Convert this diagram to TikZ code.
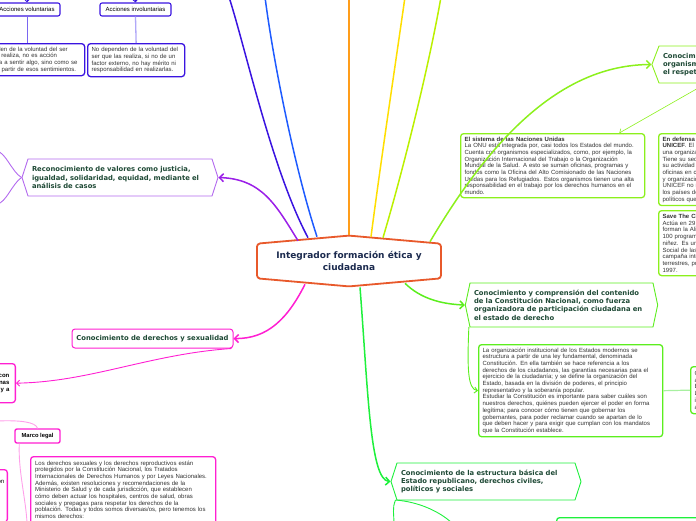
\documentclass[tikz,border=0pt]{standalone}
\usepackage{fontspec}
\setmainfont{Liberation Sans}
\newfontfamily\headfont{DejaVu Sans}
\usetikzlibrary{arrows.meta, positioning, shapes.symbols, calc}
\definecolor{headgreen}{HTML}{1F4A36}
\definecolor{mainnavy}{HTML}{1B2A4E}
\definecolor{bodygray}{HTML}{333333}
\definecolor{mainorange}{HTML}{E8592B}
\definecolor{recpurple}{HTML}{9B1FE8}
\definecolor{recborder}{HTML}{B36AEF}
\definecolor{volindigo}{HTML}{3A14E0}
\definecolor{vollight}{HTML}{7A66F0}
\definecolor{invlight}{HTML}{B0A8F8}
\definecolor{topblue}{HTML}{1E5BFF}
\definecolor{toporange}{HTML}{FF9D1A}
\definecolor{topyellow}{HTML}{FFDE00}
\definecolor{topyg}{HTML}{BBF000}
\definecolor{orglime}{HTML}{8CF01C}
\definecolor{conlime}{HTML}{5CEE1E}
\definecolor{estgreen}{HTML}{1EF03C}
\definecolor{sexmagenta}{HTML}{FF1FD2}
\definecolor{sexlight}{HTML}{FFA0EA}
\definecolor{provlight}{HTML}{A8F0A0}

\begin{document}
\begin{tikzpicture}[x=1pt, y=-1pt,
    hexnode/.style={shape=signal, signal to=west and east, draw, fill=white, line width=0.9pt,
      align=left, text=headgreen, font=\headfont\bfseries\fontsize{6.8}{8.4}\selectfont,
      inner xsep=4pt, inner ysep=3pt},
    notebox/.style={draw, fill=white, rounded corners=3pt, line width=1.3pt, align=left,
      text=bodygray, font=\fontsize{6}{6.7}\selectfont, inner xsep=4pt, inner ysep=3pt,
      anchor=north west},
    tagbox/.style={draw, fill=white, rounded corners=2pt, line width=1.1pt,
      font=\fontsize{6}{7}\selectfont, inner sep=1.5pt},
    link/.style={line width=1.5pt, -{Straight Barb[length=4pt,width=8pt]}},
    branch/.style={line width=1.5pt},
    twig/.style={line width=0.9pt}
  ]
  \useasboundingbox (0,0) rectangle (696,520);

  % central topic
  \node[draw=mainorange, line width=1.8pt, fill=white, shape=signal, signal to=north and south,
    signal pointer angle=170, rounded corners=3pt, minimum width=184pt, minimum height=48pt,
    align=center, text=mainnavy, font=\headfont\bfseries\fontsize{9}{12}\selectfont]
    (main) at (349,261) {Integrador formación ética y\\ciudadana};

  % free ends off the page
  \coordinate (topIndigo) at (229,-3);
  \coordinate (topBlue) at (265,-3);
  \coordinate (topOrange) at (349,-3);
  \coordinate (topYellow) at (405,-3);
  \coordinate (topYg) at (441,-3);
  \coordinate (volIn) at (27,-3);
  \coordinate (invIn) at (135,-3);
  \coordinate (recUp) at (-3,151);
  \coordinate (recDown) at (-3,204);
  \coordinate (legalIn) at (-3,421);
  \coordinate (legalDown) at (27,523);
  \coordinate (orgOut) at (700,87);
  \coordinate (estDown) at (394,523);
  \coordinate (estRight) at (452,523);

  % acciones
  \node[tagbox, draw=volindigo, minimum width=66pt, minimum height=13pt] (vol) at (27,9.5) {Acciones voluntarias};
  \node[tagbox, draw=volindigo, minimum width=71pt, minimum height=13pt] (invol) at (135.5,9.5) {Acciones involuntarias};
  \node[notebox, draw=volindigo, text width=101pt, minimum height=32pt] (volText) at (-25,43)
    {Dependen de la voluntad del ser\\que las realiza, no es acción\\obligada a sentir algo, sino como se\\actúa a partir de esos sentimientos.};
  \node[notebox, draw=volindigo, text width=89pt, minimum height=33pt] (involText) at (87,43)
    {No dependen de la voluntad del\\ser que las realiza, si no de un\\factor externo, no hay mérito ni\\responsabilidad en realizarlas.};

  % valores
  \node[hexnode, draw=recborder, text width=176pt, minimum height=37pt, signal pointer angle=144] (rec) at (120,177.5)
    {Reconocimiento de valores como justicia,\\igualdad, solidaridad, equidad, mediante el\\análisis de casos};

  % derechos y sexualidad
  \node[tagbox, draw=sexmagenta, rounded corners=3pt, line width=1pt, minimum width=161pt, minimum height=19pt,
    text=headgreen, font=\headfont\bfseries\fontsize{6.8}{8}\selectfont] (sex) at (152.5,338.5)
    {Conocimiento de derechos y sexualidad};
  \node[notebox, draw=sexmagenta, anchor=north east, align=right, text width=140pt, minimum height=39pt, inner xsep=6pt,
    text=black, font=\bfseries\fontsize{6}{6.9}\selectfont] (sexChild) at (16,363)
    {Son derechos humanos que se relacionan con\\la sexualidad de las personas\\y a decidir con libertad y a};
  \node[tagbox, draw=sexmagenta, line width=1.4pt, minimum width=45pt, minimum height=14pt,
    font=\bfseries\fontsize{5.8}{7}\selectfont] (marco) at (37.5,436) {Marco legal};
  \node[notebox, draw=sexmagenta, text width=176pt, inner xsep=4.5pt, inner ysep=4pt] (legalText) at (30,456)
    {Los derechos sexuales y los derechos reproductivos están\\protegidos por la Constitución Nacional, los Tratados\\Internacionales de Derechos Humanos y por Leyes Nacionales.\\Además, existen resoluciones y recomendaciones de la\\Ministerio de Salud y de cada jurisdicción, que establecen\\cómo deben actuar los hospitales, centros de salud, obras\\sociales y prepagas para respetar los derechos de la\\población. Todas y todos somos diversas/os, pero tenemos los\\mismos derechos:\par\vspace*{10pt}};
  \node[notebox, draw=sexmagenta, anchor=north east, align=right, text width=100pt, inner ysep=9pt, inner xsep=3pt,
    text=black] (infoBox) at (8,469)
    {Derecho a la información\par\vspace*{30pt}};

  % organismos internacionales
  \node[hexnode, draw=orglime, text width=200pt, minimum height=37pt, signal pointer angle=138] (org) at (763,64.5)
    {Conocimiento de la función de los\\organismos internacionales en\\el respeto de los derechos humanos};
  \node[notebox, draw=orglime, text width=176pt, minimum height=64pt] (onu) at (460,133)
    {\textbf{El sistema de las Naciones Unidas}\\La ONU está integrada por, casi todos los Estados del mundo.\\Cuenta con organismos especializados, como, por ejemplo, la\\Organización Internacional del Trabajo o la Organización\\Mundial de la Salud. A esto se suman oficinas, programas y\\fondos como la Oficina del Alto Comisionado de las Naciones\\Unidas para los Refugiados. Estos organismos tienen una alta\\responsabilidad en el trabajo por los derechos humanos en el\\mundo.};
  \node[notebox, draw=orglime, text width=220pt, minimum height=71pt] (unicef) at (658,133)
    {\textbf{En defensa de los derechos de la niñez}\\\textbf{UNICEF}. El Fondo de las Naciones Unidas para la Infancia es\\una organización que trabaja por los derechos de la niñez.\\Tiene su sede en Nueva York y lleva adelante\\su actividad en más de 190 países a través de\\oficinas en cada país, comités nacionales\\y organizaciones aliadas.\\UNICEF no recibe fondos de las Naciones Unidas; lo financian\\los países donantes y aportes privados. No tiene fines\\políticos que lo condicionen.};
  \node[notebox, draw=orglime, text width=220pt, minimum height=65pt] (save) at (658,210)
    {\textbf{Save The Children}\\Actúa en 29 países cuyas organizaciones nacionales\\forman la Alianza Internacional. Desarrolla más de\\100 programas de protección de los derechos de la\\niñez. Es un órgano consultivo del Consejo Económico y\\Social de las Naciones Unidas. Participó en la\\campaña internacional contra las minas\\terrestres, por la que obtuvo el Premio Nobel de la Paz en\\1997.};

  % constitucion
  \node[hexnode, draw=conlime, text width=175pt, minimum height=44pt, signal pointer angle=156] (con) at (561.5,305)
    {Conocimiento y comprensión del contenido\\de la Constitución Nacional, como fuerza\\organizadora de participación ciudadana en\\el estado de derecho};
  \node[notebox, draw=conlime, text width=176pt, minimum height=90pt] (constText) at (478,344)
    {La organización institucional de los Estados modernos se\\estructura a partir de una ley fundamental, denominada\\Constitución. En ella también se hace referencia a los\\derechos de los ciudadanos, las garantías necesarias para el\\ejercicio de la ciudadanía; y se define la organización del\\Estado, basada en la división de poderes, el principio\\representativo y la soberanía popular.\\Estudiar la Constitución es importante para saber cuáles son\\nuestros derechos, quiénes pueden ejercer el poder en forma\\legítima; para conocer cómo tienen que gobernar los\\gobernantes, para poder reclamar cuando se apartan de lo\\que deben hacer y para exigir que cumplan con los mandatos\\que la Constitución establece.};
  \node[notebox, draw=conlime, text width=210pt, minimum height=47pt] (prov) at (690,366)
    {Cada provincia dicta su propia Constitución de acuerdo\\a los principios de la Constitución Nacional.\\En ella se organizan los poderes del Estado provincial.\\Los municipios también tienen autonomía\\institucional, política y\\administrativa.};

  % estado republicano
  \node[hexnode, draw=estgreen, text width=170pt, minimum height=37pt, signal pointer angle=144] (est) at (486,481.5)
    {Conocimiento de la estructura básica del\\Estado republicano, derechos civiles,\\políticos y sociales};
  \node[notebox, draw=estgreen, text width=150pt, minimum height=40pt] (estChild) at (556,517) {};

  % main branches
  \draw[branch, volindigo] ($(main.north)+(-41,3)$) .. controls (272,170) and (246,50) .. (topIndigo);
  \draw[branch, topblue] ($(main.north)+(-32,2)$) .. controls (295,170) and (273,60) .. (topBlue);
  \draw[branch, toporange] (main.north) -- (topOrange);
  \draw[branch, topyellow] ($(main.north)+(22,2)$) .. controls (381,160) and (396,60) .. (topYellow);
  \draw[branch, topyg] ($(main.north)+(34,3)$) .. controls (406,160) and (430,60) .. (topYg);
  \draw[link, recpurple] ($(main.north)+(-51,6)$) .. controls (276,205) and (262,179) .. (rec.east);
  \draw[link, orglime] ($(main.north)+(81,7)$) .. controls (490,140) and (560,65) .. (org.west);
  \draw[link, conlime] ($(main.south)+(56,-4)$) .. controls (420,298) and (440,304) .. (con.west);
  \draw[link, estgreen] ($(main.south)+(11,0)$) .. controls (368,390) and (370,480) .. (est.west);
  \draw[link, sexmagenta] ($(main.south)+(-44,-3)$) .. controls (288,318) and (268,339) .. (sex.east);

  % sub branches
  \draw[twig, recborder] (rec.west) .. controls (12,172) and (6,153) .. (recUp);
  \draw[twig, recborder] (rec.west) .. controls (12,184) and (6,203) .. (recDown);
  \draw[twig, volindigo, -{Straight Barb[length=3pt,width=6pt]}] (volIn) -- (vol.north);
  \draw[twig, volindigo, -{Straight Barb[length=3pt,width=6pt]}] (invIn) -- (invol.north);
  \draw[twig, vollight] (vol.south) -- (volText.north -| vol.south);
  \draw[twig, invlight, line width=1.3pt] (invol.south) -- (involText.north);
  \draw[twig, sexmagenta, -{Straight Barb[length=3pt,width=6pt]}] ($(sex.south east)+(-2,0)$) .. controls (150,354) and (90,382) .. (sexChild.east);
  \draw[twig, sexlight] (legalIn) .. controls (20,420) and (36,422) .. (marco.north);
  \draw[twig, sexlight] ($(marco.south west)+(5,0)$) .. controls (18,470) and (26,500) .. (legalDown);
  \draw[line width=0.6pt, orglime, -{Straight Barb[length=3pt,width=6pt]}] (orgOut) -- ($(onu.north east)+(-26,0)$);
  \draw[twig, conlime, -{Straight Barb[length=3pt,width=6pt]}] ($(con.west)+(4,22)$) .. controls (467,370) and (468,389) .. (constText.west);
  \draw[twig, provlight, line width=1.2pt] (constText.east) -- (prov.west);
  \draw[twig, estgreen] ($(est.west)+(5,18.5)$) .. controls (392,508) and (394,515) .. (estDown);
  \draw[twig, estgreen] ($(est.west)+(5,18.5)$) .. controls (420,502) and (440,512) .. (estRight);
\end{tikzpicture}
\end{document}
